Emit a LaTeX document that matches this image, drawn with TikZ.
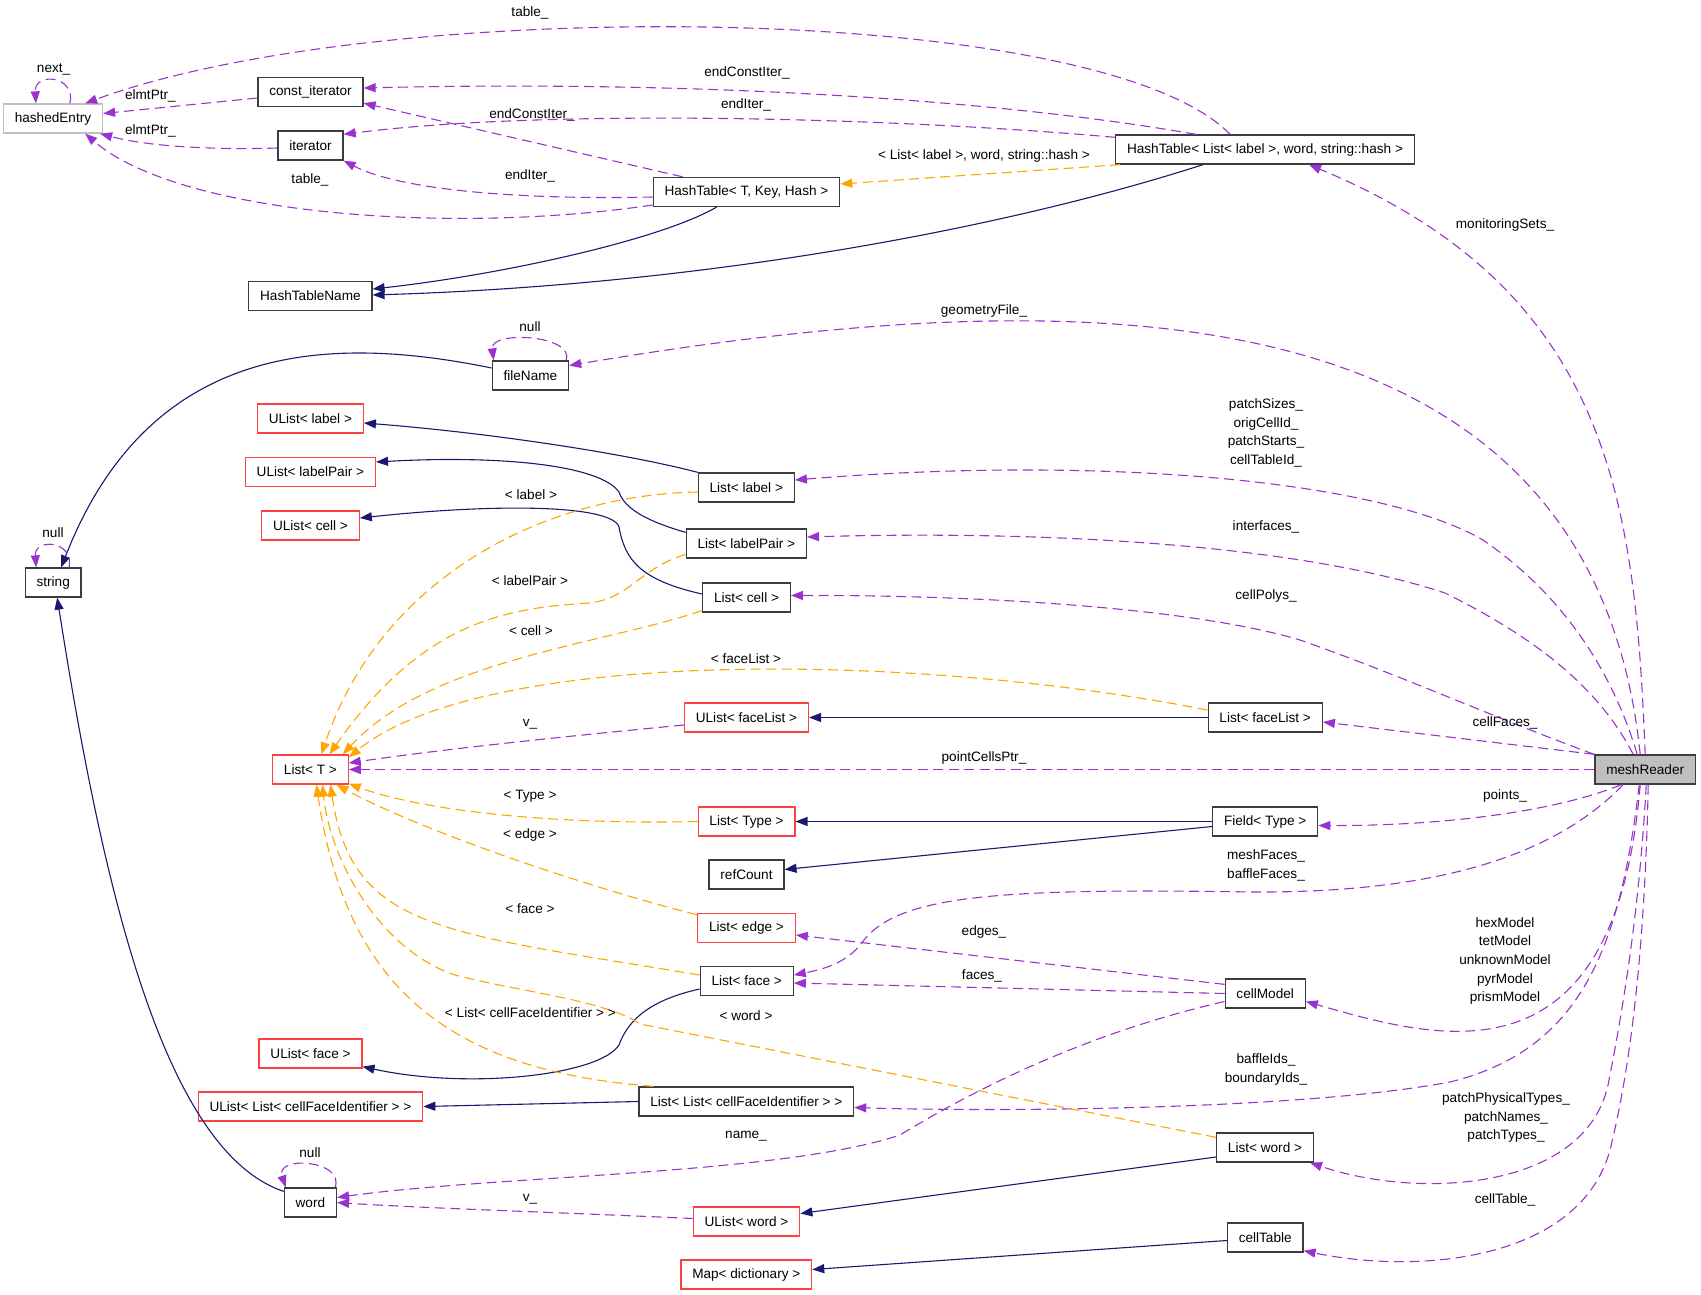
\documentclass[tikz,border=0pt]{standalone}
\usepackage{fontspec}
\setmainfont{Liberation Sans}
\usetikzlibrary{arrows.meta,calc}
\definecolor{member}{RGB}{154,50,205}
\definecolor{tmplarg}{RGB}{255,165,0}
\definecolor{inherit}{RGB}{25,25,112}
\definecolor{undoc}{RGB}{255,64,64}
\definecolor{grey75}{RGB}{191,191,191}
\definecolor{boxline}{RGB}{60,60,60}
\tikzset{
  cls/.style={draw=boxline, line width=1.3pt, fill=white, minimum height=29pt,
    inner xsep=11.3pt, inner ysep=0pt, font=\fontsize{13.6}{18.7}\selectfont},
  nodoc/.style={cls, draw=undoc},
  extcls/.style={cls, draw=grey75},
  rootcls/.style={cls, fill=grey75},
  elabel/.style={inner sep=0pt, align=center, font=\fontsize{13.6}{18.7}\selectfont},
  uses/.style={draw=member, line width=1.1pt, dash pattern=on 10pt off 5.5pt,
    -{Triangle[length=12pt,width=9pt]}},
  tmpl/.style={uses, draw=tmplarg},
  inh/.style={draw=inherit, line width=1.1pt, -{Triangle[length=12pt,width=9pt]}}
}
\begin{document}
\begin{tikzpicture}[x=1pt,y=-1pt]
\useasboundingbox (0,0) rectangle (1701,1295);

%Shape: Class boxes
\node[extcls] (hashedEntry) at (53,118.5) {hashedEntry};
\node[cls] (constIter) at (310.5,92) {const\_iterator};
\node[cls] (iter) at (310.5,145.5) {iterator};
\node[cls] (htName) at (310.4,296) {HashTableName};
\node[cls] (htT) at (746.5,192) {HashTable< T, Key, Hash >};
\node[cls] (htL) at (1265,149.5) {HashTable< List< label >, word, string::hash >};
\node[cls] (fileName) at (530.4,375.5) {fileName};
\node[nodoc] (ulLabel) at (310.4,418.5) {UList< label >};
\node[nodoc] (ulPair) at (310.4,472) {UList< labelPair >};
\node[nodoc] (ulCell) at (310.5,525.5) {UList< cell >};
\node[cls] (string) at (53.2,582.5) {string};
\node[cls] (lLabel) at (746.3,487.5) {List< label >};
\node[cls] (lPair) at (746.3,543.5) {List< labelPair >};
\node[cls] (lCell) at (746.5,597.5) {List< cell >};
\node[nodoc] (listT) at (310.4,769.5) {List< T >};
\node[nodoc] (ulFaceList) at (746.5,717.5) {UList< faceList >};
\node[nodoc] (lType) at (746.5,821.5) {List< Type >};
\node[cls] (refCount) at (746.5,874.5) {refCount};
\node[nodoc] (lEdge) at (746.5,928) {List< edge >};
\node[cls] (lFaceList) at (1265.2,717.5) {List< faceList >};
\node[rootcls] (meshReader) at (1645.2,769.5) {meshReader};
\node[cls] (field) at (1265.2,821.5) {Field< Type >};
\node[cls] (lFace) at (746.7,981) {List< face >};
\node[cls] (lLcfi) at (746.3,1101.5) {List< List< cellFaceIdentifier > >};
\node[nodoc] (ulWord) at (746.5,1221.5) {UList< word >};
\node[nodoc] (mapDict) at (746.3,1274.5) {Map< dictionary >};
\node[nodoc] (ulFace) at (310.5,1053.5) {UList< face >};
\node[nodoc] (ulLcfi) at (310.5,1106.5) {UList< List< cellFaceIdentifier > >};
\node[cls] (word) at (310.4,1202.5) {word};
\node[cls] (cellModel) at (1265.2,993.5) {cellModel};
\node[cls] (lWord) at (1265,1147.5) {List< word >};
\node[cls] (cellTable) at (1265.2,1237.5) {cellTable};

%Curve Lines: hash table part
\draw[uses] ($(hashedEntry.north)+(17,0)$) .. controls (76,75) and (34,72) .. ($(hashedEntry.north)+(-17,0)$);
\draw[uses] ($(constIter.west)+(0,6)$) -- ($(hashedEntry.east)+(0,-5)$);
\draw[uses] ($(iter.west)+(0,2.5)$) .. controls (220,150) and (150,147) .. ($(hashedEntry.south east)+(-3,0)$);
\draw[uses] ($(htL.north west)+(115,0)$) .. controls (1100,0) and (380,-5) .. ($(hashedEntry.north east)+(-18,0)$);
\draw[uses] ($(htT.west)+(0,13)$) .. controls (450,235) and (180,215) .. ($(hashedEntry.south east)+(-18,0)$);
\draw[uses] ($(htL.north west)+(81,0)$) .. controls (1000,100) and (700,80) .. ($(constIter.east)+(0,-4)$);
\draw[uses] ($(htL.north west)+(0,3)$) .. controls (900,118) and (550,108) .. ($(iter.north east)+(0,4)$);
\draw[uses] ($(htT.north west)+(30,0)$) -- ($(constIter.south east)+(0,-4)$);
\draw[uses] ($(htT.west)+(0,5)$) .. controls (520,200) and (400,190) .. (iter.south east);
\draw[tmpl] ($(htL.south west)+(5,0)$) -- ($(htT.east)+(0,-8)$);
\draw[inh] ($(htT.south)+(-30,0)$) .. controls (660,240) and (500,275) .. ($(htName.east)+(0,-7)$);
\draw[inh] ($(htL.south)+(-62,0)$) .. controls (1000,230) and (700,285) .. ($(htName.east)+(0,-1)$);
\draw[uses] (meshReader.north) .. controls (1635,500) and (1610,290) .. ($(htL.south)+(44,0)$);

%Curve Lines: strings and files
\draw[uses] ($(fileName.north east)+(-3,0)$) .. controls (575,335) and (490,330) .. ($(fileName.north west)+(2,0)$);
\draw[uses] ($(meshReader.north)+(-5,0)$) .. controls (1590,265) and (1050,285) .. ($(fileName.east)+(0,-10)$);
\draw[inh] ($(fileName.west)+(0,-7.5)$) .. controls (330,335) and (150,340) .. ($(string.north)+(8,0)$);
\draw[uses] ($(string.north)+(16,0)$) .. controls (74,540) and (34,538) .. ($(string.north)+(-17,0)$);
\draw[inh] ($(word.north west)+(0,4)$) .. controls (160,1150) and (100,870) .. ($(string.south)+(4,0)$);
\draw[uses] ($(word.north east)+(-2,0)$) .. controls (345,1160) and (275,1155) .. ($(word.north west)+(2,0)$);

%Curve Lines: lists
\draw[uses] ($(meshReader.north)+(-8,0)$) .. controls (1615,680) and (1570,600) .. (1483,540) .. controls (1380,480) and (1100,455) .. ($(lLabel.east)+(0,-7.5)$);
\draw[uses] ($(meshReader.north)+(-12,0)$) .. controls (1600,690) and (1540,640) .. (1445,593) .. controls (1300,545) and (1050,530) .. ($(lPair.east)+(0,-6.5)$);
\draw[uses] (meshReader.north west) .. controls (1500,720) and (1400,675) .. (1300,640) .. controls (1200,610) and (1000,595) .. ($(lCell.east)+(0,-2)$);
\draw[inh] (lLabel.north west) .. controls (620,452) and (480,432) .. ($(ulLabel.east)+(0,4.5)$);
\draw[inh] ($(lPair.north west)+(0,4)$) .. controls (650,522) and (625,510) .. (619,492) .. controls (600,465) and (500,455) .. ($(ulPair.east)+(0,-10)$);
\draw[inh] ($(lCell.west)+(0,-3.5)$) .. controls (640,580) and (625,560) .. (619,527) .. controls (612,505) and (500,503) .. ($(ulCell.east)+(0,-7.5)$);
\draw[tmpl] ($(lLabel.west)+(0,4.5)$) .. controls (540,495) and (380,580) .. ($(listT.north)+(11,0)$);
\draw[tmpl] ($(lPair.west)+(0,11)$) .. controls (640,568) and (630,598) .. (590,603) .. controls (500,608) and (420,625) .. ($(listT.north)+(19,0)$);
\draw[tmpl] ($(lCell.south west)+(0,-2)$) .. controls (600,645) and (430,660) .. ($(listT.north east)+(-6,0)$);
\draw[tmpl] ($(lFaceList.west)+(0,-7.5)$) .. controls (900,650) and (480,650) .. ($(listT.north east)+(0,3)$);
\draw[uses] ($(ulFaceList.west)+(0,7.5)$) .. controls (600,733) and (450,748) .. ($(listT.east)+(0,-6.5)$);
\draw[uses] (meshReader.west) -- (listT.east);
\draw[inh] (lFaceList.west) -- (ulFaceList.east);
\draw[uses] (meshReader.north west) -- ($(lFaceList.east)+(0,4.5)$);
\draw[tmpl] (lType.west) .. controls (550,825) and (420,810) .. ($(listT.south east)+(0,-1)$);
\draw[inh] (field.west) -- (lType.east);
\draw[inh] ($(field.west)+(0,5)$) -- ($(refCount.east)+(0,-5)$);
\draw[uses] ($(meshReader.south)+(-24,0)$) .. controls (1560,810) and (1450,826) .. ($(field.east)+(0,4)$);
\draw[tmpl] ($(lEdge.north west)+(0,2)$) .. controls (580,885) and (420,830) .. ($(listT.south)+(26,0)$);
\draw[uses] ($(meshReader.south)+(-22,0)$) .. controls (1560,850) and (1450,893) .. (1253,892) .. controls (1000,888) and (900,895) .. (864,940) .. controls (850,960) and (830,968) .. ($(lFace.east)+(0,-6)$);
\draw[uses] ($(cellModel.north west)+(0,6)$) -- ($(lEdge.east)+(0,7)$);
\draw[uses] (cellModel.west) -- ($(lFace.east)+(0,2)$);
\draw[tmpl] ($(lFace.west)+(0,-6)$) .. controls (440,932) and (352,930) .. ($(listT.south)+(20,0)$);
\draw[inh] ($(lFace.west)+(0,8)$) .. controls (650,1000) and (628,1020) .. (619,1045) .. controls (600,1075) and (470,1090) .. ($(ulFace.south east)+(0,-2)$);
\draw[uses] ($(meshReader.south)+(-5,0)$) .. controls (1615,1090) and (1440,1040) .. ($(cellModel.east)+(0,8)$);
\draw[uses] ($(cellModel.west)+(0,8)$) .. controls (1100,1030) and (990,1080) .. (900,1135) .. controls (780,1175) and (500,1175) .. ($(word.east)+(0,-5)$);
\draw[tmpl] ($(lLcfi.north west)+(15,0)$) .. controls (440,1070) and (345,980) .. ($(listT.south)+(6,0)$);
\draw[inh] (lLcfi.west) -- (ulLcfi.east);
\draw[uses] ($(meshReader.south)+(-6,0)$) .. controls (1620,950) and (1580,1050) .. (1450,1082) .. controls (1300,1110) and (1000,1112) .. ($(lLcfi.east)+(0,6)$);
\draw[tmpl] ($(lWord.north west)+(0,5)$) -- (640,1024) .. controls (605,1000) and (520,992) .. (455,975) .. controls (380,950) and (330,860) .. ($(listT.south)+(12,0)$);
\draw[inh] ($(lWord.west)+(0,9.5)$) -- ($(ulWord.east)+(0,-8)$);
\draw[uses] ($(ulWord.west)+(0,-3)$) .. controls (550,1212) and (420,1208) .. (word.east);
\draw[uses] ($(meshReader.south)+(1,0)$) .. controls (1640,900) and (1625,1000) .. (1608,1085) .. controls (1585,1190) and (1420,1200) .. ($(lWord.south east)+(-4,0)$);
\draw[uses] ($(meshReader.south)+(3,0)$) .. controls (1645,950) and (1630,1070) .. (1610,1150) .. controls (1580,1260) and (1420,1275) .. ($(cellTable.south east)+(0,-2)$);
\draw[inh] ($(cellTable.west)+(0,3)$) -- ($(mapDict.east)+(0,-5)$);

% Text Node
\node[elabel] (lbTableTop) at (530,13) {table\_};
\node[elabel] (lbNext) at (53.6,69) {next\_};
\node[elabel] (lbElmt1) at (150.4,96) {elmtPtr\_};
\node[elabel] (lbElmt2) at (150.4,131) {elmtPtr\_};
\node[elabel] (lbTableLow) at (310,180) {table\_};
\node[elabel] (lbConstIterT) at (532,115) {endConstIter\_};
\node[elabel] (lbIterT) at (530,176) {endIter\_};
\node[elabel] (lbConstIterL) at (747,73) {endConstIter\_};
\node[elabel] (lbIterL) at (746,105) {endIter\_};
\node[elabel] (lbHashArgs) at (984,156) {< List< label >, word, string::hash >};
\node[elabel] (lbMonitor) at (1505,225) {monitoringSets\_};
\node[elabel] (lbNullFile) at (530,327) {null};
\node[elabel] (lbNullStr) at (53,533) {null};
\node[elabel] (lbGeom) at (984,311) {geometryFile\_};
\node[elabel] (lbArgLabel) at (531,495) {< label >};
\node[elabel] (lbArgPair) at (530,581) {< labelPair >};
\node[elabel] (lbArgCell) at (531,631) {< cell >};
\node[elabel] (lbPatch) at (1266,433) {patchSizes\_\\origCellId\_\\patchStarts\_\\cellTableId\_};
\node[elabel] (lbInterf) at (1266,527) {interfaces\_};
\node[elabel] (lbPolys) at (1266,596) {cellPolys\_};
\node[elabel] (lbArgFL) at (746,659) {< faceList >};
\node[elabel] (lbV1) at (530,724) {v\_};
\node[elabel] (lbCellFaces) at (1505,723) {cellFaces\_};
\node[elabel] (lbPCP) at (984,758) {pointCellsPtr\_};
\node[elabel] (lbArgType) at (530,796) {< Type >};
\node[elabel] (lbPoints) at (1505,796) {points\_};
\node[elabel] (lbArgEdge) at (530,835) {< edge >};
\node[elabel] (lbMeshFaces) at (1266,865.5) {meshFaces\_\\baffleFaces\_};
\node[elabel] (lbArgFace) at (530,909) {< face >};
\node[elabel] (lbEdges) at (984,932) {edges\_};
\node[elabel] (lbModels) at (1505,961) {hexModel\\tetModel\\unknownModel\\pyrModel\\prismModel};
\node[elabel] (lbFaces) at (982,976) {faces\_};
\node[elabel] (lbArgLcfi) at (530.4,1013) {< List< cellFaceIdentifier > >};
\node[elabel] (lbArgWord) at (746,1016) {< word >};
\node[elabel] (lbIds) at (1266,1069.5) {baffleIds\_\\boundaryIds\_};
\node[elabel] (lbPatchW) at (1506,1117.5) {patchPhysicalTypes\_\\patchNames\_\\patchTypes\_};
\node[elabel] (lbName) at (746,1136) {name\_};
\node[elabel] (lbNullWord) at (310,1153) {null};
\node[elabel] (lbV2) at (530,1199) {v\_};
\node[elabel] (lbCellTable) at (1505,1200) {cellTable\_};

\end{tikzpicture}
\end{document}
